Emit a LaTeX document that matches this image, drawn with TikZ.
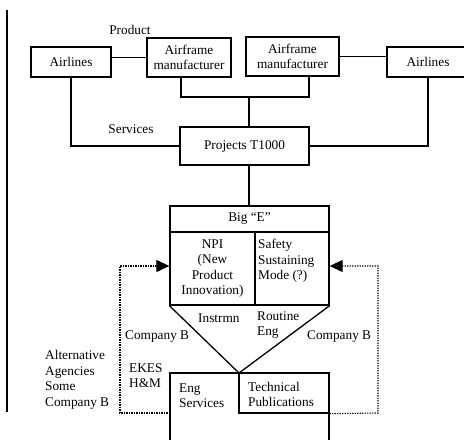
\documentclass[tikz,border=0pt]{standalone}
\usepackage{fontspec}
\setmainfont{Liberation Serif}
\usetikzlibrary{arrows.meta}
\tikzset{
  box/.style={draw, line width=1.3pt, inner sep=0pt, align=center, font=\fontsize{13.3}{15.5}\selectfont},
  lbl/.style={inner sep=0pt, font=\fontsize{13.3}{15.5}\selectfont},
  conn/.style={line width=1.3pt},
  dotarrow/.style={line width=1.1pt, dash pattern=on 1.2pt off 1.3pt, -{Triangle[length=13pt,width=12pt]}},
}
\begin{document}
\begin{tikzpicture}[x=1pt,y=-1pt]
\useasboundingbox (0,0) rectangle (464,440);
\fill[white] (0,0) rectangle (464,440);
% left bar
\coordinate (bt) at (7,10);
\coordinate (bb) at (7,412);
\draw[line width=2pt] (bt) -- (bb);
% top boxes
\node[box, minimum width=80, minimum height=30] (airL) at (71,62) {Airlines};
\node[box, minimum width=84, minimum height=39] (af1) at (189,57.5) {Airframe\\manufacturer};
\node[box, minimum width=93, minimum height=39] (af2) at (292.5,56.5) {Airframe\\manufacturer};
\node[box, minimum width=82, minimum height=30] (airR) at (428,62) {Airlines};
\node[box, minimum width=129, minimum height=38] (proj) at (244.5,146) {Projects T1000};
% Big E
\node[box, minimum width=159, minimum height=26] (bigE) at (249.5,219) {Big “E”};
\node[box, minimum width=85, minimum height=73] (npi) at (212.5,268.5) {NPI\\(New\\Product\\Innovation)};
\node[box, minimum width=74, minimum height=73] (safe) at (292,268.5) {};
\node[lbl, anchor=west, align=left] (safetxt) at (258,261) {Safety\\Sustaining\\Mode (?)};
% junctions
\coordinate (j1) at (181,97);
\coordinate (j2) at (309,97);
\coordinate (jm) at (249,97);
\coordinate (rl) at (428,146);
% connectors top
\draw[conn] (airL.east |- af1.west) -- (af1.west);
\draw[conn] (af2.east) -- (airR.west |- af2.east);
\draw[conn] (j1 |- af1.south) -- (j1) -- (j2) -- (j2 |- af2.south);
\draw[conn] (jm) -- (jm |- proj.north);
\draw[conn] (airL.south) |- (proj.west);
\draw[conn] (airR.south -| rl) -- (rl) -- (proj.east |- rl);
\draw[conn] (jm |- proj.south) -- (jm |- bigE.north);
% funnel
\coordinate (apex) at (239,373);
\draw[conn] (npi.south west) -- (apex) -- (safe.south east);
% bottom
\coordinate (ol) at (170,440);
\coordinate (or) at (329,440);
\draw[conn] (ol) -- (170,373) -- (329,373) -- (or);
\node[box, minimum width=90, minimum height=40] (tech) at (284,393) {};
\node[lbl, anchor=west, align=left] (techtxt) at (248,394.5) {Technical\\Publications};
\node[lbl, anchor=west, align=left] (engs) at (179,395.5) {Eng\\Services};
% dotted feedback
\coordinate (dl1) at (170,413);
\coordinate (dl2) at (120,413);
\coordinate (dl3) at (120,266);
\draw[dotarrow] (dl1) -- (dl2) -- (dl3) -- (npi.west |- dl3);
\coordinate (dr1) at (378,413);
\coordinate (dr2) at (378,266);
\draw[dotarrow] (tech.south east) -- (dr1) -- (dr2) -- (safe.east |- dr2);
% labels
\node[lbl] (product) at (130,30) {Product};
\node[lbl] (services) at (131,129) {Services};
\node[lbl, anchor=west] (instr) at (198,318) {Instrmn};
\node[lbl, anchor=west, align=left] (routine) at (257,325) {Routine\\Eng};
\node[lbl, anchor=west] (compL) at (125,337) {Company B};
\node[lbl, anchor=west] (compR) at (307,337) {Company B};
\node[lbl, anchor=west, align=left] (ekes) at (129,375.5) {EKES\\H\&M};
\node[lbl, anchor=west, align=left] (alt) at (45,380) {Alternative\\Agencies\\Some\\Company B};
\end{tikzpicture}
\end{document}
